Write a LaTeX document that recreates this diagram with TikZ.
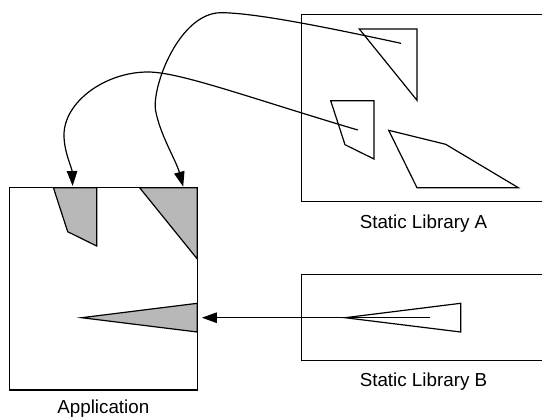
\documentclass[tikz,border=0pt]{standalone}
\usepackage{fontspec}
\setmainfont{Liberation Sans}
\usetikzlibrary{arrows.meta,positioning}
\definecolor{shade}{RGB}{184,184,184}

\begin{document}
\begin{tikzpicture}[x=1pt,y=-1pt,line width=1.2pt,
		box/.style={draw,inner sep=0pt},
		caption/.style={inner sep=0pt,font=\fontsize{18.8}{22}\selectfont},
		piece/.style={draw,line join=miter},
		copy/.style={piece,fill=shade},
		link/.style={-{Triangle[length=15pt,width=10.5pt]}}]
			\useasboundingbox (0,0) rectangle (542,416);
			% copied pieces inside the application
			\begin{scope}[shift={(-219.7,158.7)}]
				\draw[copy] (359.3,29) -- (417,29) -- (417,100.3) -- cycle;
			\end{scope}
			\begin{scope}[shift={(-277.3,87)}]
				\draw[copy] (330.7,100.7) -- (374,100.7) -- (374,159) -- (345,144.7) -- cycle;
			\end{scope}
			\begin{scope}[shift={(-263.4,0)}]
				\draw[copy] (345,317.7) -- (460.7,303.3) -- (460.7,332) -- cycle;
			\end{scope}
			% boxes and captions
			\node[box,minimum width=188pt,minimum height=202.3pt] (app) at (103.3,288.85) {};
			\node[box,minimum width=243.6pt,minimum height=187.4pt] (libA) at (423.5,108) {};
			\node[box,minimum width=243.6pt,minimum height=86.4pt] (libB) at (423.5,317.5) {};
			\node[caption,below=11.5pt of libA] (capA) {Static Library A};
			\node[caption,below=11pt of libB] (capB) {Static Library B};
			\node[caption,below=8.5pt of app] (capApp) {Application};
			% pieces of the libraries
			\draw[piece] (359.3,29) -- (417,29) -- (417,100.3) -- cycle;
			\draw[piece] (330.7,100.7) -- (374,100.7) -- (374,159) -- (345,144.7) -- cycle;
			\draw[piece] (388.7,130.3) -- (445.7,144.3) -- (518.3,187.7) -- (417,187.7) -- cycle;
			\draw[piece] (345,317.7) -- (460.7,303.3) -- (460.7,332) -- cycle;
			% links
			\coordinate (srcA1) at (401,43.3);
			\coordinate (srcA2) at (357.8,130);
			\coordinate (srcB) at (430,317.7);
			\coordinate (dstA1) at (183.2,186.7);
			\coordinate (dstA2) at (72.6,186);
			\draw[link] (srcA1) .. controls (330,28) and (255,12.7) .. (221,12.7)
				.. controls (180,12.7) and (152,85) .. (155.5,110)
				.. controls (160,135) and (176,160) .. (dstA1);
			\draw[link] (srcA2) .. controls (250,98) and (180,72) .. (148,72)
				.. controls (105,72) and (64,102) .. (64,135)
				.. controls (64,152) and (72,168) .. (dstA2);
			\draw[link,shorten >=4pt] (srcB) -- (srcB -| app.east);
	\end{tikzpicture}
\end{document}
